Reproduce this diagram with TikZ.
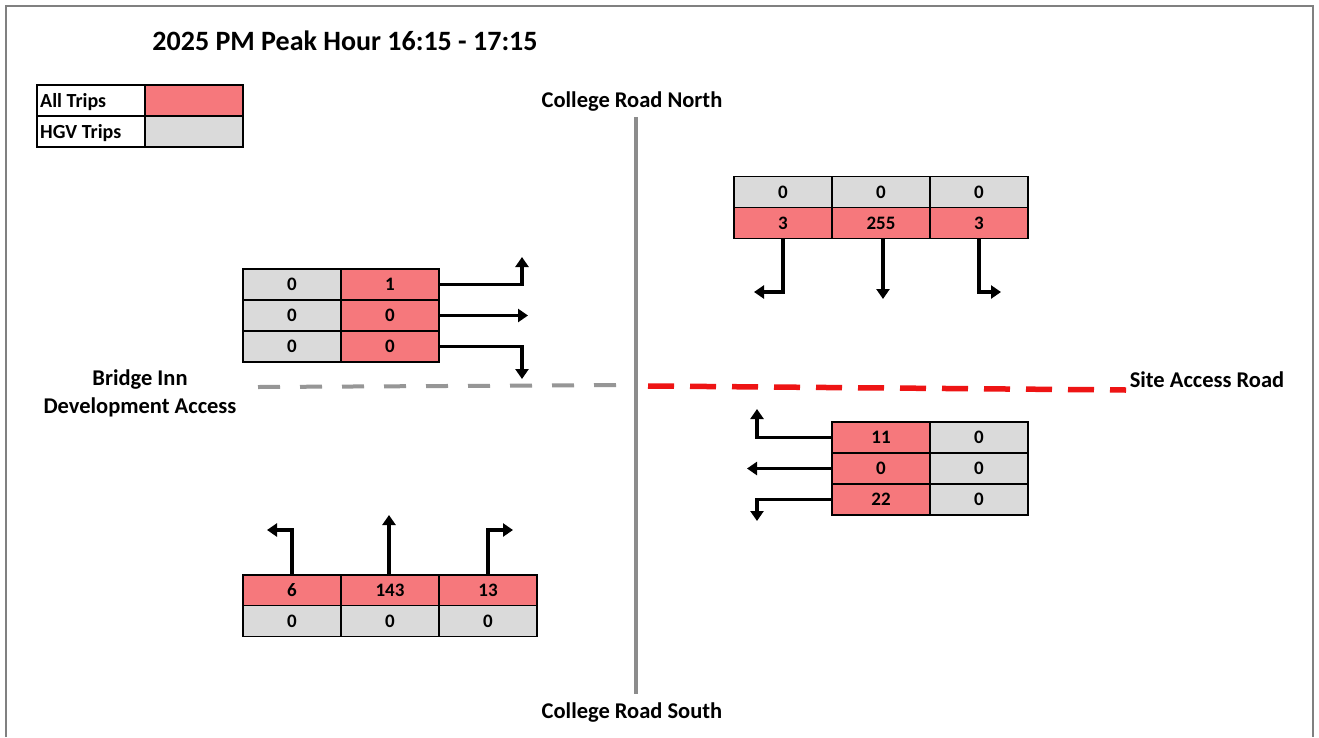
\documentclass[tikz,border=0pt]{standalone}
\usepackage{fontspec}
\setmainfont{Carlito}
\usetikzlibrary{arrows.meta}
\definecolor{tripred}{RGB}{246,120,124}
\definecolor{hgvgray}{RGB}{218,218,218}
\definecolor{roadgray}{RGB}{140,140,140}
\definecolor{dashgray}{RGB}{150,150,150}
\definecolor{dashred}{RGB}{238,20,20}
\tikzset{
  cell/.style={draw=black, line width=1.6pt, minimum width=98pt, minimum height=31pt, inner sep=0pt, font=\bfseries\fontsize{19}{19}\selectfont},
  redcell/.style={cell, fill=tripred},
  graycell/.style={cell, fill=hgvgray},
  legbox/.style={draw=black, line width=1.6pt, minimum width=108pt, minimum height=31pt, inner sep=0pt},
  legtext/.style={anchor=west, inner sep=0pt, font=\bfseries\fontsize{20}{20}\selectfont},
  legcell/.style={draw=black, line width=1.6pt, minimum width=98pt, minimum height=31pt, inner sep=0pt},
  arr/.style={draw=black, line width=3.9pt, -{Triangle[width=13pt,length=10pt]}},
  lbl/.style={font=\bfseries\fontsize{22.5}{28}\selectfont, inner sep=0pt, align=center},
}
\begin{document}
\begin{tikzpicture}[x=1pt,y=-1pt]
\useasboundingbox (0,0) rectangle (1319,737);
\fill[white] (0,0) rectangle (1319,737);
% frame
\draw[gray, line width=1.2pt] (6,737) -- (6,6) -- (1313,6) -- (1313,737);
% title
\node[font=\bfseries\fontsize{28}{32}\selectfont, inner sep=0pt] (title) at (345,41) {2025 PM Peak Hour 16:15 - 17:15};
% legend
\node[legbox] (legA) at (91,100.5) {};
\node[legtext] (legAt) at (40,102) {All Trips};
\node[legcell, fill=tripred] (legAc) at (194,100.5) {};
\node[legbox] (legH) at (91,131.5) {};
\node[legtext] (legHt) at (40,133) {HGV Trips};
\node[legcell, fill=hgvgray] (legHc) at (194,131.5) {};
% roads
\node[lbl] (crn) at (632,102) {College Road North};
\node[lbl] (crs) at (632,712) {College Road South};
\node[lbl] (sar) at (1207,380) {Site Access Road};
\node[lbl] (bia) at (140,393) {Bridge Inn\\Development Access};
\coordinate (vtop) at (636,117);
\coordinate (vbot) at (636,694);
\draw[roadgray, line width=3.5pt] (vtop) -- (vbot);
\coordinate (gl) at (258,387);
\coordinate (gr) at (632,385);
\draw[dashgray, line width=4pt, dash pattern=on 22pt off 20pt] (gl) -- (gr);
\coordinate (rl) at (648,386);
\coordinate (rr) at (1126,390);
\draw[dashred, line width=5.5pt, dash pattern=on 26pt off 16pt] (rl) -- (rr);
% west approach
\node[graycell] (w1g) at (292,284.5) {0};
\node[redcell]  (w1r) at (390,284.5) {1};
\node[graycell] (w2g) at (292,315.5) {0};
\node[redcell]  (w2r) at (390,315.5) {0};
\node[graycell] (w3g) at (292,346.5) {0};
\node[redcell]  (w3r) at (390,346.5) {0};
\coordinate (wa1) at (522,257);
\coordinate (wa2) at (528,315.5);
\coordinate (wa3) at (522,379);
\draw[arr] (w1r.east) -| (wa1);
\draw[arr] (w2r.east) -- (wa2);
\draw[arr] (w3r.east) -| (wa3);
% north approach
\node[graycell] (n1g) at (783,192) {0};
\node[graycell] (n2g) at (881,192) {0};
\node[graycell] (n3g) at (979,192) {0};
\node[redcell]  (n1r) at (783,223) {3};
\node[redcell]  (n2r) at (881,223) {255};
\node[redcell]  (n3r) at (979,223) {3};
\coordinate (na1) at (754,292);
\coordinate (na2) at (883,299);
\coordinate (na3) at (1001,292);
\draw[arr] (n1r.south) |- (na1);
\draw[arr] ([xshift=2pt]n2r.south) -- (na2);
\draw[arr] (n3r.south) |- (na3);
% east approach
\node[redcell]  (e1r) at (881,437.5) {11};
\node[graycell] (e1g) at (979,437.5) {0};
\node[redcell]  (e2r) at (881,468.5) {0};
\node[graycell] (e2g) at (979,468.5) {0};
\node[redcell]  (e3r) at (881,499.5) {22};
\node[graycell] (e3g) at (979,499.5) {0};
\coordinate (ea1) at (757,409);
\coordinate (ea2) at (747,468.5);
\coordinate (ea3) at (757,521);
\draw[arr] (e1r.west) -| (ea1);
\draw[arr] (e2r.west) -- (ea2);
\draw[arr] (e3r.west) -| (ea3);
% south approach
\node[redcell]  (s1r) at (292,590.5) {6};
\node[redcell]  (s2r) at (390,590.5) {143};
\node[redcell]  (s3r) at (488,590.5) {13};
\node[graycell] (s1g) at (292,621) {0};
\node[graycell] (s2g) at (390,621) {0};
\node[graycell] (s3g) at (488,621) {0};
\coordinate (sa1) at (267,530);
\coordinate (sa2) at (389,515);
\coordinate (sa3) at (513,530);
\draw[arr] (s1r.north) |- (sa1);
\draw[arr] ([xshift=-1pt]s2r.north) -- (sa2);
\draw[arr] (s3r.north) |- (sa3);
\end{tikzpicture}
\end{document}
